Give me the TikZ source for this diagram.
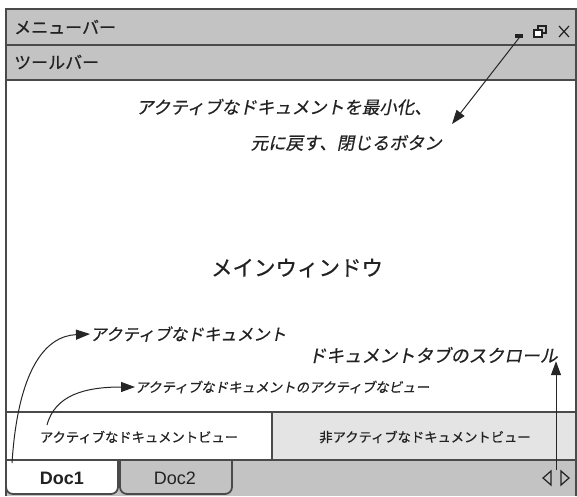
\documentclass[tikz,border=0pt]{standalone}
\usepackage{fontspec}
\newfontfamily\jp[FakeBold=0.5]{Noto Sans CJK JP}
\newfontfamily\jpi[FakeSlant=0.2,FakeBold=0.5]{Noto Sans CJK JP}
\newfontfamily\arial{Liberation Sans}
\usetikzlibrary{arrows.meta}
\definecolor{barg}{HTML}{C3C3C3}
\definecolor{lineg}{HTML}{4A4A4A}
\definecolor{viewg}{HTML}{E4E4E4}
\definecolor{txtg}{HTML}{222222}
\tikzset{
  frameline/.style={draw=lineg, line width=1.8pt},
  bartxt/.style={font=\jp\fontsize{17}{19}\selectfont, text=txtg, anchor=west, inner sep=0pt},
  note/.style={font=\jpi\fontsize{17.5}{20}\selectfont, text=txtg, inner sep=0pt},
  smallnote/.style={font=\jpi\fontsize{13.5}{16}\selectfont, text=txtg, inner sep=0pt},
  viewtxt/.style={font=\jp\fontsize{13.3}{16}\selectfont, text=txtg, inner sep=0pt},
  pointer/.style={draw=black!85, line width=1pt, -{Triangle[length=14pt,width=10pt]}},
  tabtxt/.style={text=txtg, inner sep=0pt}
}
\begin{document}
\begin{tikzpicture}[x=1pt,y=-1pt]
\useasboundingbox (0,0) rectangle (577,496);
\fill[white] (0,0) rectangle (577,496);
% bars
\fill[barg] (6,9) rectangle (576,80);
\fill[barg] (6,460) rectangle (576,496);
\fill[viewg] (272,412) rectangle (576,460);
% tabs
\draw[frameline, fill=white, rounded corners=7pt] (6,460) -- (6,494) -- (118,494) -- (118,460);
\draw[frameline, fill=barg, rounded corners=7pt] (120,460) -- (120,494) -- (232,494) -- (232,460);
% frame lines
\draw[frameline] (6,496) -- (6,9) -- (576,9) -- (576,496);
\draw[frameline] (6,45) -- (576,45);
\draw[frameline] (6,80) -- (576,80);
\draw[frameline] (6,412) -- (576,412);
\draw[frameline] (6,460) -- (576,460);
\draw[frameline] (272,412) -- (272,460);
% bar texts
\node[bartxt] (menu) at (14,27) {メニューバー};
\node[bartxt] (tool) at (14,62) {ツールバー};
% window buttons
\node[fill=txtg, minimum width=8pt, minimum height=3.5pt, inner sep=0pt] (minbtn) at (519,36) {};
\draw[txtg, line width=1.3pt] (538,26) rectangle (546,33);
\draw[txtg, line width=1.3pt, fill=white] (534,30) rectangle (542,37);
\draw[txtg, line width=1.2pt] (559,26) -- (569,37) (569,26) -- (559,37);
% notes
\node[note, anchor=east] (btnA) at (432,107) {アクティブなドキュメントを最小化、};
\node[note, anchor=east] (btnB) at (442,143) {元に戻す、閉じるボタン};
\coordinate (btnend) at (452,124);
\draw[pointer] (minbtn.south) -- (btnend);
\node[font=\jp\fontsize{21.5}{24}\selectfont, text=txtg, inner sep=0pt] (mainwin) at (297,268) {メインウィンドウ};
\node[note, font=\jpi\fontsize{16.5}{19}\selectfont, anchor=west] (actdoc) at (90,334) {アクティブなドキュメント};
\node[note, font=\jpi\fontsize{17.8}{20}\selectfont] (scrolltxt) at (433,355) {ドキュメントタブのスクロール};
\node[smallnote, anchor=west] (actview) at (135,387) {アクティブなドキュメントのアクティブなビュー};
% view texts
\node[viewtxt] (av) at (139,437) {アクティブなドキュメントビュー};
\node[viewtxt] (iv) at (425,437) {非アクティブなドキュメントビュー};
% tab texts
\node[tabtxt, font=\arial\bfseries\fontsize{18}{20}\selectfont] (doc1) at (62,478) {Doc1};
\node[tabtxt, font=\arial\fontsize{18}{20}\selectfont] (doc2) at (175,478) {Doc2};
% scroll arrows
\draw[txtg, line width=1.2pt] (551,471) -- (543,478) -- (551,485) -- cycle;
\draw[txtg, line width=1.2pt] (561,471) -- (569,478) -- (561,485) -- cycle;
\coordinate (scrollstart) at (556,470);
\draw[pointer] (scrollstart) -- (scrolltxt.south -| scrollstart) ++(0,-2);
% curved pointers
\coordinate (docstart) at (12,463);
\draw[pointer] (docstart) .. controls (18,370) and (45,336) .. (actdoc.west);
\coordinate (viewstart) at (47,425);
\draw[pointer] (viewstart) .. controls (55,395) and (85,387) .. (actview.west);
\end{tikzpicture}
\end{document}
